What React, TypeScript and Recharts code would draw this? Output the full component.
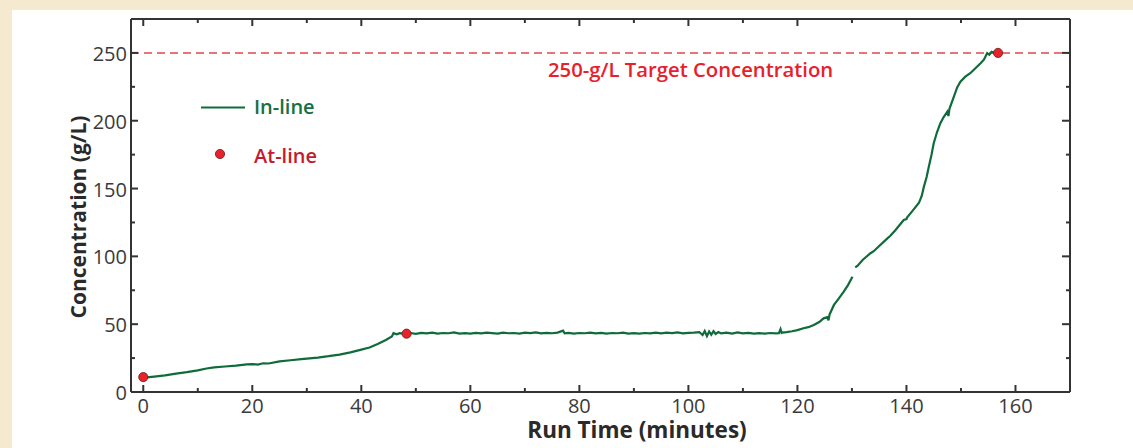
import { ComposedChart, Line, Scatter, XAxis, YAxis, ReferenceLine } from "recharts";

// in-line probe trace, [minutes, g/L]
const earlyRise: Array<[number, number]> = [
  [0.6, 10.8], [2, 11.4], [4, 12.3], [6, 13.6], [8, 14.6], [10, 16.0], [11.6, 17.3], [13, 18.2],
  [15, 18.8], [17, 19.4], [19, 20.4], [20, 20.6], [21, 20.2], [22, 21.2], [23, 21.0], [25, 22.6],
  [27, 23.4], [29, 24.2], [30, 24.6], [32, 25.4], [34, 26.4], [36, 27.6], [38, 29.2], [40, 31.2],
  [41.5, 32.8], [43, 35.4], [44.5, 38.4], [45.6, 41.0], [45.9, 43.4], [46.5, 42.6], [47, 43.4],
];

const plateau: Array<[number, number]> = [
  [48, 43.1], [49, 43.5], [50, 42.9], [51, 43.6], [52, 43.2], [53, 43.8], [54, 43.0], [55, 43.5],
  [56, 43.3], [57, 43.9], [58, 43.1], [59, 43.4], [60, 43.0], [61, 43.6], [62, 43.2], [63, 43.7],
  [64, 43.4], [65, 43.0], [66, 43.8], [67, 43.3], [68, 43.5], [69, 43.1], [70, 43.7], [71, 43.4],
  [72, 43.9], [73, 43.2], [74, 43.6], [75, 43.3], [76, 43.8], [77, 45.2], [77.3, 43.3], [78, 43.6],
  [79, 43.1], [80, 43.5], [81, 43.3], [82, 43.8], [83, 43.2], [84, 43.6], [85, 43.0], [86, 43.5],
  [87, 43.3], [88, 43.7], [89, 43.1], [90, 43.4], [91, 43.0], [92, 43.5], [93, 43.2], [94, 43.7],
  [95, 43.3], [96, 43.8], [97, 43.4], [98, 43.9], [99, 43.3], [100, 43.6], [101, 43.8], [102, 44.2],
  [102.6, 42.0], [103, 45.0], [103.4, 41.2], [103.8, 44.6], [104.2, 42.2], [104.6, 44.8], [105, 42.8],
  [105.5, 44.2], [106, 43.2], [107, 43.8], [108, 43.1], [109, 43.9], [110, 43.3], [111, 43.6],
  [112, 43.0], [113, 43.4], [114, 43.1], [115, 43.5], [116, 43.2], [116.6, 43.3], [116.9, 46.4],
  [117.1, 43.6],
];

const lateClimb: Array<[number, number]> = [
  [117.2, 43.8], [118, 44.2], [119, 44.8], [120, 45.6], [121.1, 47.0], [122, 47.8], [123, 49.4],
  [124, 51.6], [124.8, 54.3], [125.5, 55.2], [125.7, 52.8], [125.9, 57.2], [126.7, 64.2],
  [127.5, 68.5], [128.5, 74.0], [129.3, 79.0], [130.1, 85.0],
];

const finalClimb: Array<[number, number]> = [
  [130.6, 91.8], [131, 93.0], [132, 97.5], [133.4, 102.3], [134, 103.8], [135, 107.7], [136.5, 113.3],
  [137, 115.0], [138, 119.5], [139.5, 126.8], [140, 127.5], [140.1, 128.6], [141, 133.0],
  [142.3, 139.5], [142.8, 144.5], [143.2, 151.4], [143.7, 158.5], [144.1, 166.0], [144.6, 175.0],
  [145, 183.4], [145.6, 191.5], [146.2, 198.0], [146.8, 202.5], [147.5, 206.7], [147.7, 203.5],
  [147.9, 209.0], [148.7, 217.8], [149.3, 224.5], [149.9, 228.8], [150.8, 232.5], [151.7, 235.0],
  [152.6, 238.5], [153.6, 242.4], [154.2, 245.0], [154.8, 249.8], [155.2, 248.6], [155.6, 250.8],
  [156.0, 250.2],
];

// at-line samples
const atLineTime = [0, 48.3, 156.8];
const atLineConc = [11, 43, 250];

const xTicks = [0, 10, 20, 30, 40, 50, 60, 70, 80, 90, 100, 110, 120, 130, 140, 150, 160];
const yTicks = [0, 25, 50, 75, 100, 125, 150, 175, 200, 225, 250];
const targetConc = 250;

const GREEN = "#0f6b3a";
const AXIS = "#333";
const FONT = "'Open Sans', sans-serif";

const toRows = (seg: Array<[number, number]>) => seg.map(([t, v]) => ({ t, v }));
const inlineRows = [
  ...toRows(earlyRise),
  ...toRows(plateau),
  ...toRows(lateClimb),
  { t: 130.35, v: null },
  ...toRows(finalClimb),
];
const atLineRows = atLineTime.map((t, i) => ({ t, v: atLineConc[i] }));

const BottomTick = ({ x, y, payload }: any) => {
  const major = payload.value % 20 === 0;
  return (
    <g>
      <line x1={x} x2={x} y1={y} y2={y - (major ? 7 : 4)} stroke={AXIS} strokeWidth={2} />
      {major && (
        <text x={x} y={y + 21} textAnchor="middle" fontSize={20} fill="#3a3a3a" fontFamily={FONT}>
          {payload.value}
        </text>
      )}
    </g>
  );
};

const TopTick = ({ x, y, payload }: any) => {
  const major = payload.value % 20 === 0;
  return <line x1={x} x2={x} y1={y} y2={y + (major ? 7 : 4)} stroke={AXIS} strokeWidth={2} />;
};

const LeftTick = ({ x, y, payload }: any) => {
  const major = payload.value % 50 === 0;
  return (
    <g>
      <line x1={x} x2={x + (major ? 7 : 4)} y1={y} y2={y} stroke={AXIS} strokeWidth={2} />
      {major && (
        <text x={x - 4} y={y + 8} textAnchor="end" fontSize={20} fill="#3a3a3a" fontFamily={FONT}>
          {payload.value}
        </text>
      )}
    </g>
  );
};

const RightTick = ({ x, y, payload }: any) => {
  const major = payload.value % 50 === 0;
  return <line x1={x} x2={x - (major ? 8 : 4)} y1={y} y2={y} stroke={AXIS} strokeWidth={2} />;
};

const Dot = ({ cx, cy }: any) => <circle cx={cx} cy={cy} r={4.6} fill="#e8212a" stroke="#6a1a1a" strokeWidth={0.8} />;

export default function App() {
  return (
    <div style={{ position: "absolute", left: 0, top: 0, width: 1133, height: 448, background: "#f5e9d0", fontFamily: FONT }}>
      <div style={{ position: "absolute", left: 12, top: 10, right: 0, bottom: 0, background: "#fff" }} />
      <div style={{ position: "absolute", left: 0, top: 0 }}>
        <ComposedChart width={1133} height={448} data={inlineRows} margin={{ top: 9, right: 53, bottom: 26, left: 71 }}>
          <XAxis xAxisId="b" dataKey="t" type="number" domain={[-2.25, 170]} ticks={xTicks} interval={0}
            allowDataOverflow height={30} tickSize={0} tickMargin={0} tickLine={false}
            axisLine={{ stroke: AXIS, strokeWidth: 2 }} tick={BottomTick} />
          <XAxis xAxisId="t" orientation="top" dataKey="t" type="number" domain={[-2.25, 170]} ticks={xTicks}
            interval={0} allowDataOverflow height={10} tickSize={0} tickMargin={0} tickLine={false}
            axisLine={{ stroke: AXIS, strokeWidth: 2 }} tick={TopTick} />
          <YAxis yAxisId="l" dataKey="v" type="number" domain={[0, 275]} ticks={yTicks} interval={0}
            allowDataOverflow width={60} tickSize={0} tickMargin={0} tickLine={false}
            axisLine={{ stroke: AXIS, strokeWidth: 2 }} tick={LeftTick} />
          <YAxis yAxisId="r" orientation="right" dataKey="v" type="number" domain={[0, 275]} ticks={yTicks}
            interval={0} allowDataOverflow width={10} tickSize={0} tickMargin={0} tickLine={false}
            axisLine={{ stroke: AXIS, strokeWidth: 2 }} tick={RightTick} />
          <ReferenceLine xAxisId="b" yAxisId="l" y={targetConc} stroke="#e0474a" strokeWidth={1.5} strokeDasharray="8 5" />
          <Line xAxisId="b" yAxisId="l" dataKey="v" type="linear" stroke={GREEN} strokeWidth={2.2}
            dot={false} activeDot={false} connectNulls={false} isAnimationActive={false} />
          <Scatter xAxisId="b" yAxisId="l" data={atLineRows} dataKey="v" shape={Dot} isAnimationActive={false} />
        </ComposedChart>
      </div>
      <svg width={1133} height={448} style={{ position: "absolute", left: 0, top: 0, pointerEvents: "none" }}>
        <text x={548} y={77} fontSize={20.3} fontWeight={600} fill="#e8202a" fontFamily={FONT}>
          250-g/L Target Concentration
        </text>
        <line x1={201} x2={245} y1={107.5} y2={107.5} stroke={GREEN} strokeWidth={2} />
        <text x={254} y={114} fontSize={20} fontWeight={600} fill="#167040" fontFamily={FONT}>In-line</text>
        <circle cx={220} cy={154} r={4.6} fill="#e8212a" stroke="#6a1a1a" strokeWidth={0.8} />
        <text x={254} y={163} fontSize={20} fontWeight={600} fill="#c41a30" fontFamily={FONT}>At-line</text>
        <text x={637} y={438} textAnchor="middle" fontSize={22.5} fontWeight={700} fill="#2a2a2a" fontFamily={FONT}>
          Run Time (minutes)
        </text>
        <text x={0} y={0} transform="translate(86 217) rotate(-90)" textAnchor="middle" fontSize={21}
          fontWeight={700} fill="#2a2a2a" fontFamily={FONT}>
          Concentration (g/L)
        </text>
      </svg>
    </div>
  );
}
